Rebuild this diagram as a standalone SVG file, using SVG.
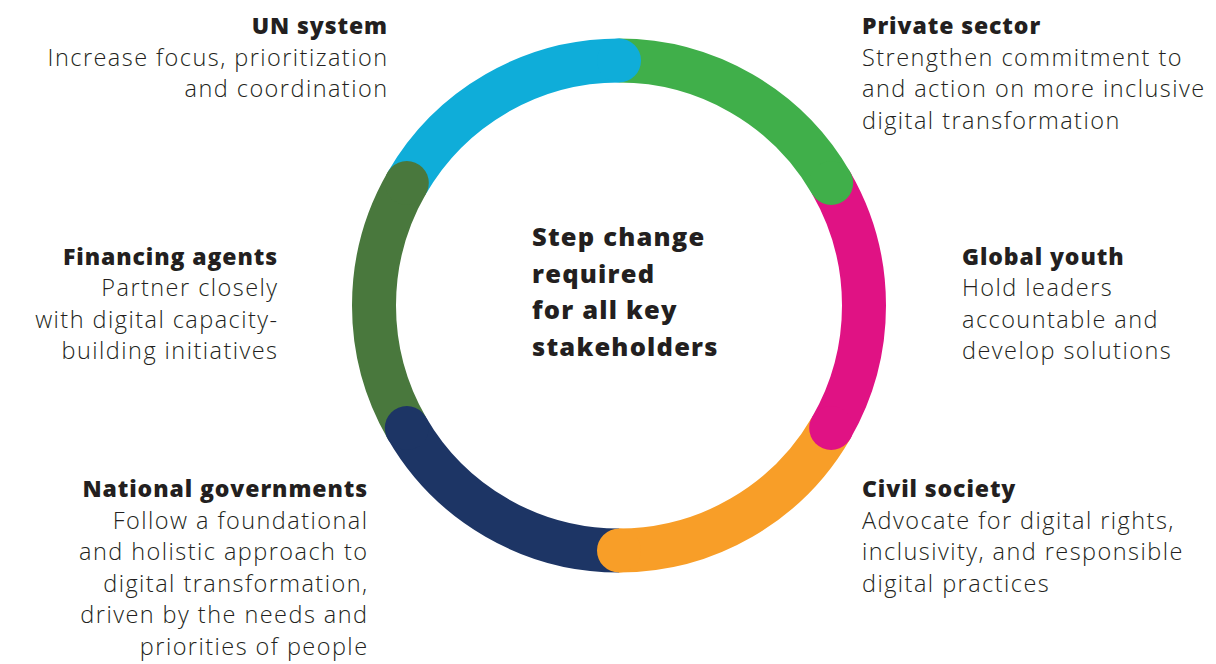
<svg xmlns="http://www.w3.org/2000/svg" width="1216" height="664" viewBox="0 0 1216 664">
<style>
.seg{fill:none;stroke-width:44;stroke-linecap:butt}
.t{font-family:"Open Sans","Liberation Sans",sans-serif;font-weight:800;font-size:23px;letter-spacing:0.9px;fill:#231f20}
.b{font-family:"Open Sans","Liberation Sans",sans-serif;font-weight:300;font-size:23.5px;letter-spacing:1.45px;fill:#231f20}
.c{font-family:"Open Sans","Liberation Sans",sans-serif;font-weight:800;font-size:25.5px;letter-spacing:1.2px;fill:#231f20}
.r{text-anchor:end}
</style>
<rect width="1216" height="664" fill="#ffffff"/>
<g id="ring">
<path class="seg" stroke="#0fadd9" d="M406.82,183 A245,245 0 0 1 619,60.5"/>
<path class="seg" stroke="#40af4a" d="M619,60.5 A245,245 0 0 1 831.18,183"/>
<path class="seg" stroke="#e01284" d="M831.18,183 A245,245 0 0 1 831.18,428"/>
<path class="seg" stroke="#f89e28" d="M831.18,428 A245,245 0 0 1 619,550.5"/>
<path class="seg" stroke="#1d3565" d="M619,550.5 A245,245 0 0 1 406.82,428"/>
<path class="seg" stroke="#49783d" d="M406.82,428 A245,245 0 0 1 406.82,183"/>
<circle cx="619" cy="60.5" r="22" fill="#0fadd9"/>
<circle cx="831.18" cy="183" r="22" fill="#40af4a"/>
<circle cx="831.18" cy="428" r="22" fill="#e01284"/>
<circle cx="619" cy="550.5" r="22" fill="#f89e28"/>
<circle cx="406.82" cy="428" r="22" fill="#1d3565"/>
<circle cx="406.82" cy="183" r="22" fill="#49783d"/>
</g>
<g id="connectors"></g>
<g id="center">
<text class="c" x="532" y="246">Step change</text>
<text class="c" x="532" y="282.5">required</text>
<text class="c" x="532" y="319">for all key</text>
<text class="c" x="532" y="355.5">stakeholders</text>
</g>
<g id="un-system">
<text class="t r" x="388" y="34">UN system</text>
<text class="b r" x="388.5" y="65.5">Increase focus, prioritization</text>
<text class="b r" x="388.5" y="97">and coordination</text>
</g>
<g id="private-sector">
<text class="t" x="862" y="34">Private sector</text>
<text class="b" x="862" y="65.5">Strengthen commitment to</text>
<text class="b" x="862" y="97">and action on more inclusive</text>
<text class="b" x="862" y="128.5">digital transformation</text>
</g>
<g id="financing-agents">
<text class="t r" x="278" y="264.5">Financing agents</text>
<text class="b r" x="278.5" y="296">Partner closely</text>
<text class="b r" x="278.5" y="327.5">with digital capacity-</text>
<text class="b r" x="278.5" y="359">building initiatives</text>
</g>
<g id="global-youth">
<text class="t" x="962" y="264.5">Global youth</text>
<text class="b" x="962" y="296">Hold leaders</text>
<text class="b" x="962" y="327.5">accountable and</text>
<text class="b" x="962" y="359">develop solutions</text>
</g>
<g id="national-governments">
<text class="t r" x="368" y="497">National governments</text>
<text class="b r" x="368.5" y="528.5">Follow a foundational</text>
<text class="b r" x="368.5" y="560">and holistic approach to</text>
<text class="b r" x="368.5" y="591.5">digital transformation,</text>
<text class="b r" x="368.5" y="623">driven by the needs and</text>
<text class="b r" x="368.5" y="654.5">priorities of people</text>
</g>
<g id="civil-society">
<text class="t" x="862" y="497">Civil society</text>
<text class="b" x="862" y="528.5">Advocate for digital rights,</text>
<text class="b" x="862" y="560">inclusivity, and responsible</text>
<text class="b" x="862" y="591.5">digital practices</text>
</g>
</svg>
